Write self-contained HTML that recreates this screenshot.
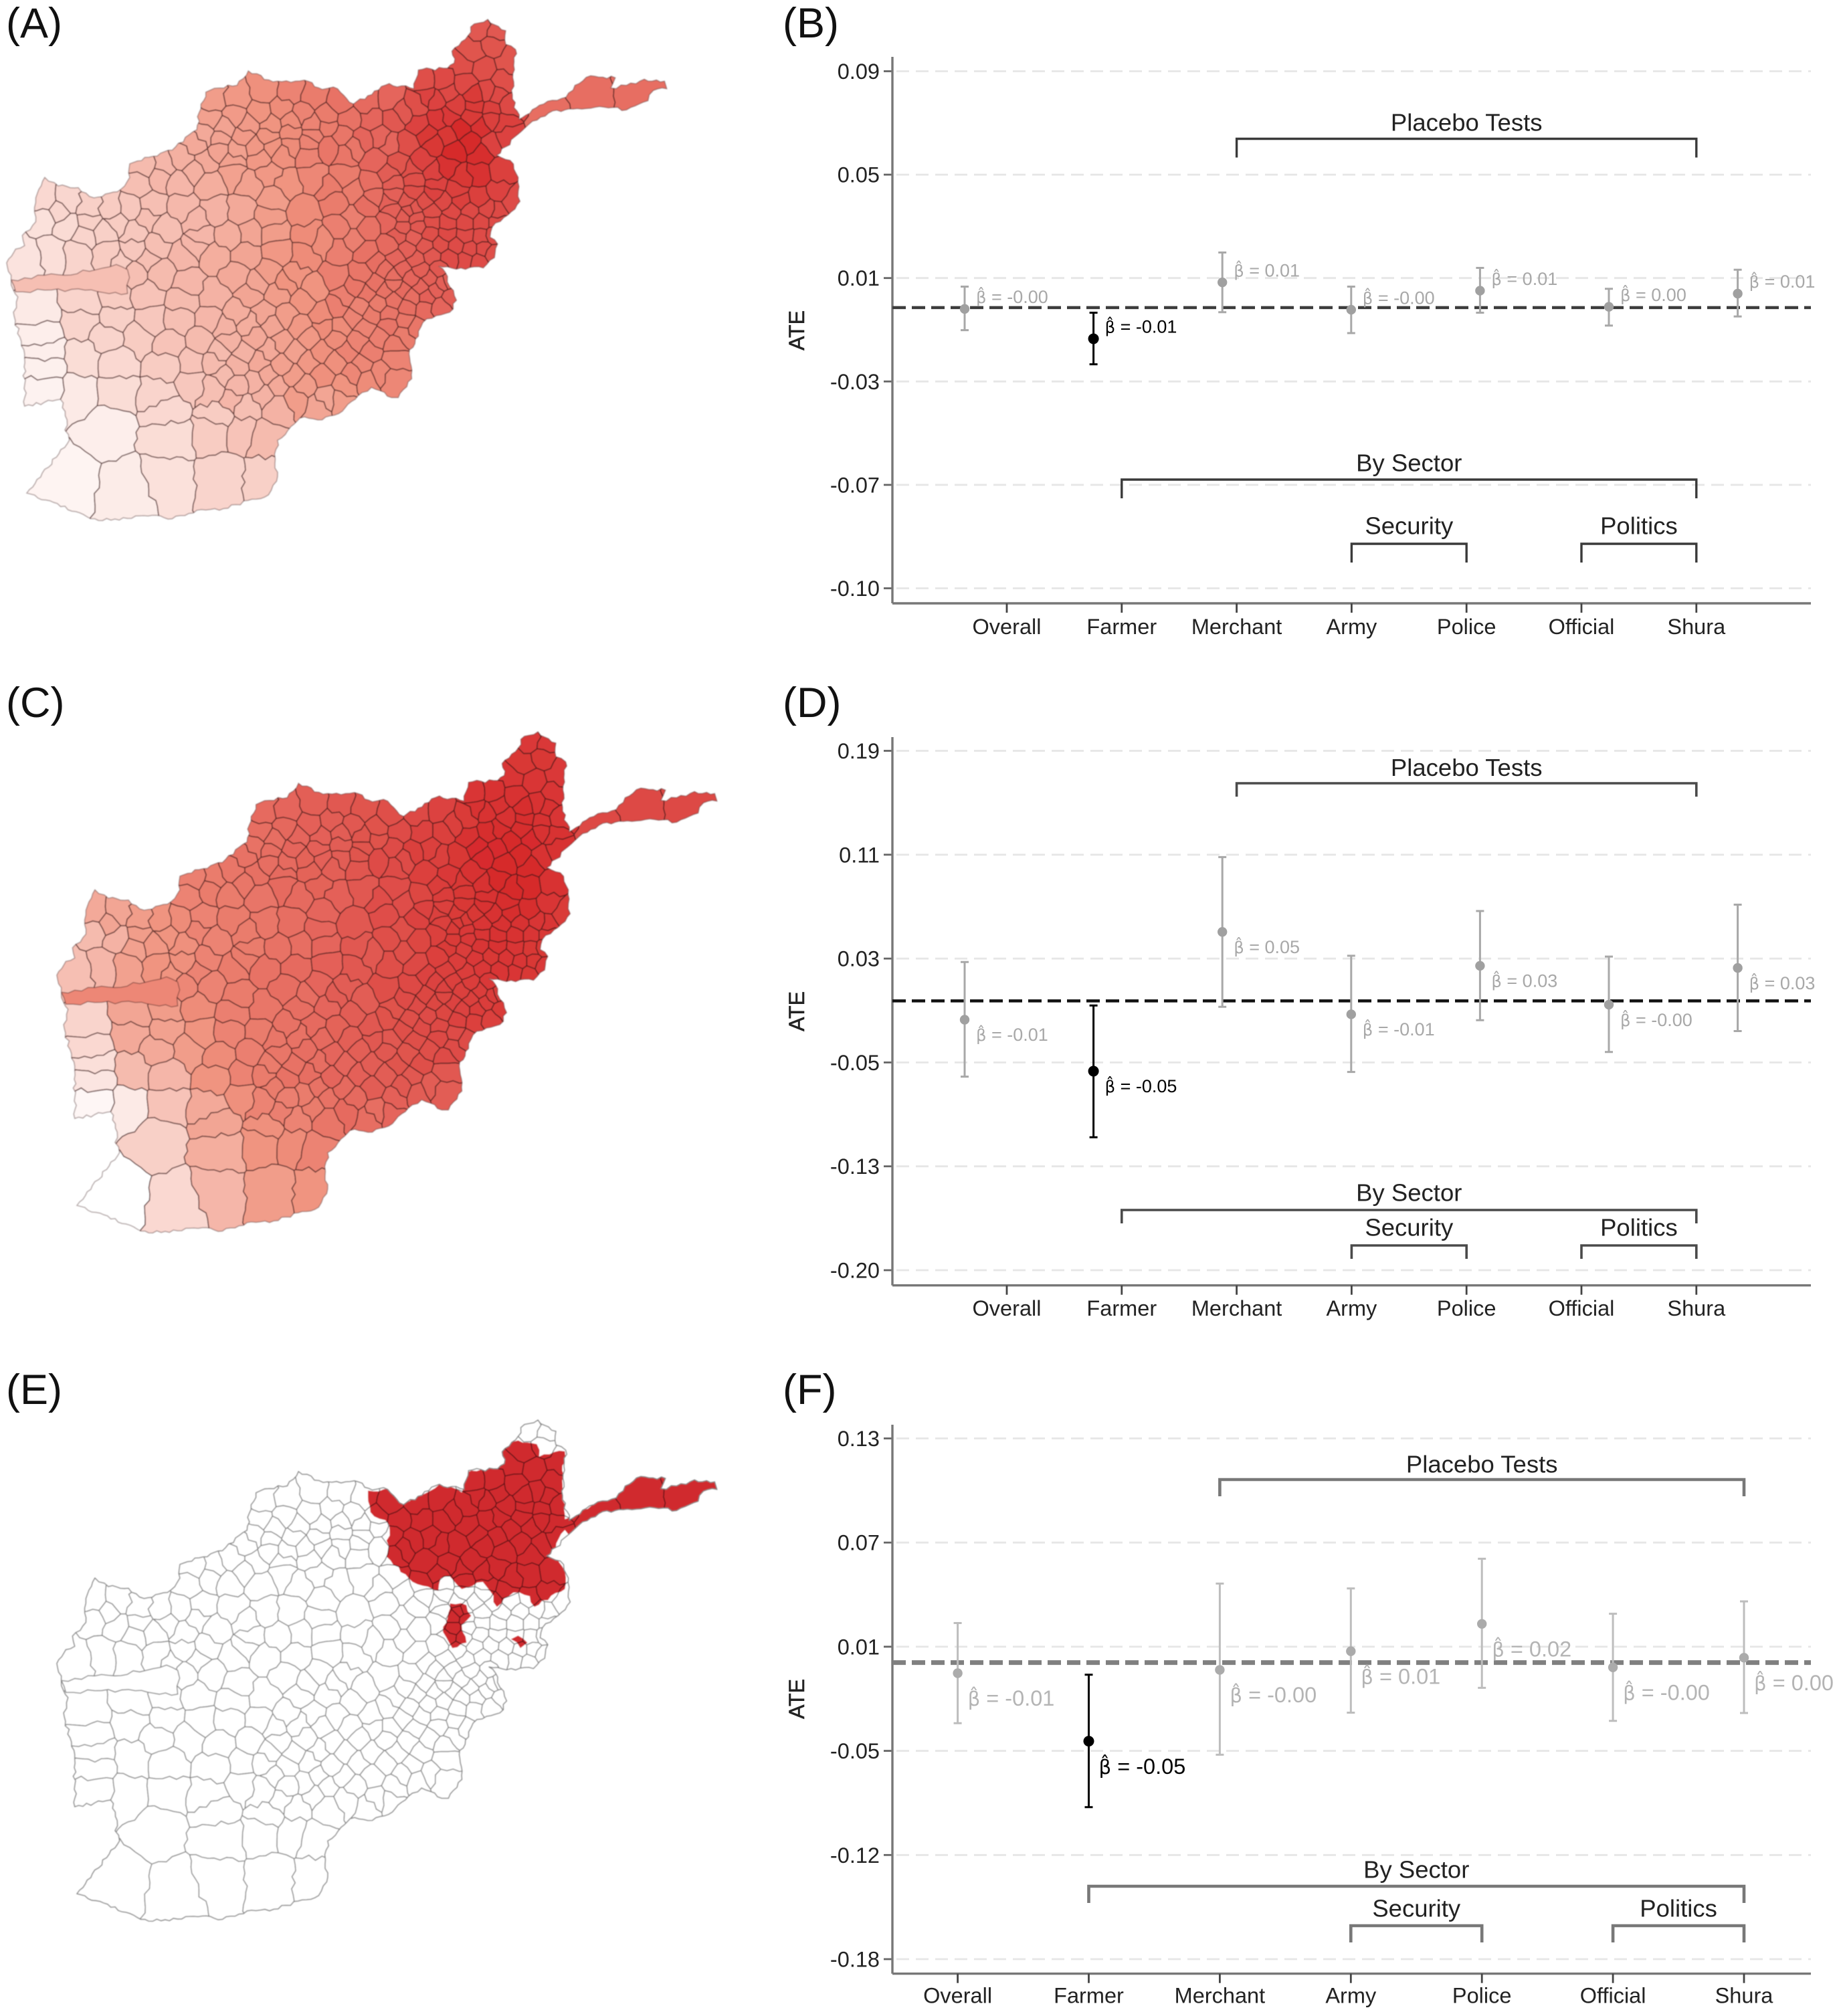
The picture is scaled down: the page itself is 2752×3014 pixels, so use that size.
<!DOCTYPE html>
<html lang="en">
<head>
<meta charset="utf-8">
<title>Afghanistan maps and treatment effects</title>
<style>
html,body{margin:0;padding:0;background:#fff;}
svg{display:block;font-family:"Liberation Sans",Arial,sans-serif;}
</style>
</head>
<body>
<svg id="figure" xmlns="http://www.w3.org/2000/svg" width="2752" height="3014" viewBox="0 0 2752 3014">
  <defs id="defs"><filter id="soft" x="-2%" y="-2%" width="104%" height="104%"><feGaussianBlur stdDeviation="0.7"/></filter></defs>
  <rect width="2752" height="3014" fill="#fff"/>
  <g font-size="63" fill="#111">
    <text x="9" y="56">(A)</text>
    <text x="1170" y="56">(B)</text>
    <text x="9" y="1072">(C)</text>
    <text x="1170" y="1072">(D)</text>
    <text x="9" y="2099">(E)</text>
    <text x="1170" y="2099">(F)</text>
  </g>
</svg>
<script>
/* ---------- chart data ---------- */
const categories = ['Overall','Farmer','Merchant','Army','Police','Official','Shura'];

const tickValuesB = [0.088,0.0495,0.011,-0.0275,-0.066,-0.1045];
const tickLabelsB = ['0.09','0.05','0.01','-0.03','-0.07','-0.10'];
const estimatesB = [-0.0005,-0.0116,0.0094,-0.0008,0.0063,0.0003,0.0052];
const upperB = [0.0078,-0.0019,0.0205,0.0078,0.0148,0.007,0.0141];
const lowerB = [-0.0084,-0.0211,-0.0017,-0.0095,-0.0019,-0.0067,-0.0033];
const printedB = ['-0.00','-0.01','0.01','-0.00','0.01','0.00','0.01'];

const tickValuesD = [0.1866,0.1091,0.0316,-0.0459,-0.1234,-0.2009];
const tickLabelsD = ['0.19','0.11','0.03','-0.05','-0.13','-0.20'];
const estimatesD = [-0.014,-0.0524,0.0515,-0.01,0.0262,-0.0028,0.0246];
const upperD = [0.029,-0.0034,0.1073,0.0337,0.0671,0.0331,0.0718];
const lowerD = [-0.0565,-0.1017,-0.0044,-0.053,-0.0144,-0.0381,-0.0225];
const printedD = ['-0.01','-0.05','0.05','-0.01','0.03','-0.00','0.03'];

const tickValuesF = [0.1345,0.072,0.0095,-0.053,-0.1155,-0.178];
const tickLabelsF = ['0.13','0.07','0.01','-0.05','-0.12','-0.18'];
const estimatesF = [-0.0064,-0.0472,-0.0044,0.0068,0.0232,-0.0029,0.0029];
const upperF = [0.0237,-0.0073,0.0474,0.0445,0.0623,0.0293,0.0367];
const lowerF = [-0.0364,-0.0868,-0.0553,-0.0301,-0.0152,-0.035,-0.0303];
const printedF = ['-0.01','-0.05','-0.00','0.01','0.02','-0.00','0.00'];

const bracketLabels = ['Placebo Tests','By Sector','Security','Politics'];
const bracketFrom = [2,1,3,5];
const bracketTo = [6,6,4,6];
const significantCategory = 1;

/* ---------- map data: district seeds in tracing coordinates, with shading per row ---------- */
const districtSites = [
 [1075,85],[1105,90],[1060,150],[1100,130],[1135,180],[1035,190],[1080,200],[1125,240],
 [950,240],[990,240],[1040,245],[1090,270],
 [480,290],[530,290],[590,265],[650,270],[700,285],[760,300],[820,300],[870,290],[930,310],[975,290],[1020,310],[1060,310],[1100,320],[1135,310],
 [470,350],[525,340],[580,330],[630,320],[675,335],[730,340],[780,350],[830,350],[880,350],[935,365],[980,350],[1030,380],[1075,370],[1120,360],
 [440,420],[490,410],[545,400],[600,400],[650,390],[700,395],[765,400],[850,400],[910,420],[970,420],[1015,440],[1075,450],[1130,400],
 [1320,280],[1420,270],[1220,340],
 [320,490],[370,490],[410,470],[460,470],[520,470],[580,460],[630,450],[690,450],[770,450],[840,470],[890,480],[945,470],[1000,490],[1120,500],
 [310,540],[400,530],[470,540],[560,540],[640,540],[700,520],[770,520],[830,540],[880,540],[925,530],[975,540],[1030,520],[1070,510],[1115,560],
 [100,590],[150,590],[200,610],[250,610],[290,610],[340,600],[410,610],[480,620],[540,620],[610,580],[680,620],[750,590],[820,600],[870,590],[910,590],[950,590],[990,590],[1030,590],[1070,580],[1110,620],[1145,590],
 [100,640],[150,660],[190,690],[230,680],[300,680],[370,670],[450,690],[510,690],[560,680],[610,680],[690,690],[760,670],[820,670],[870,650],[900,665],[930,640],[965,650],[1000,650],[1040,650],[1075,650],[1110,650],
 [60,760],[120,740],[170,745],[240,745],[300,730],[350,720],[410,750],[480,750],[550,750],[620,740],[680,750],[760,730],[820,740],[870,720],[910,730],[950,720],[985,715],[1020,720],[1050,730],[1080,730],[1100,745],
 [300,800],[360,800],[420,830],[530,810],[600,800],[660,810],[750,810],[810,800],[860,790],[900,790],[940,790],[980,790],
 [85,920],[190,890],[260,870],[330,860],[410,880],[480,870],[560,860],[620,860],[680,880],[770,870],[820,860],[860,850],[900,850],[940,840],[975,850],[1005,870],
 [185,940],[260,930],[340,940],[400,940],[470,940],[530,920],[590,920],[640,930],[720,920],[790,930],[830,920],[870,920],[910,900],[950,905],[985,895],
 [90,980],[240,990],[310,990],[380,1010],[450,1000],[510,1000],[570,990],[630,1000],[690,990],[750,990],[800,1000],[850,990],[900,980],[930,960],
 [100,1030],[100,1075],[190,1050],[260,1060],[370,1070],[430,1060],[480,1060],[530,1070],[580,1060],[630,1070],[690,1060],[750,1060],[810,1070],[880,1050],
 [100,1140],[175,1150],[260,1150],[360,1160],[430,1120],[475,1140],[530,1130],[570,1120],[620,1130],[680,1130],[770,1130],[820,1110],[880,1110],
 [240,1250],[370,1195],[490,1220],[550,1190],[620,1190],[710,1190],[760,1170],
 [380,1280],[480,1260],[540,1260],[590,1280],
 [150,1400],[290,1430],[370,1400],[500,1400],[590,1400]
];
const shadeA = [
 78,78,80,80,80,82,82,82,
 82,85,85,85,
 46,48,52,58,62,66,70,72,82,88,90,92,90,86,
 44,47,50,54,58,62,66,72,78,88,93,100,96,90,
 40,43,47,50,54,58,64,72,82,94,100,98,88,
 68,68,68,
 32,34,37,40,44,48,52,58,64,72,80,88,96,90,
 30,34,38,44,50,56,62,68,76,82,88,94,96,88,
 18,19,22,24,26,30,33,36,40,46,54,62,68,74,78,82,86,90,90,86,84,
 14,17,20,22,26,30,34,38,42,46,54,60,66,72,76,78,82,85,86,86,84,
 13,15,20,24,26,30,34,38,42,48,54,60,66,70,74,78,82,84,84,84,82,
 30,32,34,40,46,50,60,64,68,72,75,78,
 10,20,24,28,32,36,42,46,50,60,64,66,70,72,74,76,
 20,22,26,30,34,38,42,46,54,58,62,65,68,70,72,
 8,20,24,28,32,36,40,44,48,54,58,60,62,64,
 8,7,16,18,24,28,32,36,40,44,48,52,56,58,
 6,10,16,20,26,30,34,36,40,46,50,54,56,
 8,18,24,30,36,42,46,
 16,24,28,32,
 5,9,14,20,22
];
const shadeC = [
 93,93,94,94,93,95,95,95,
 95,96,96,97,
 70,72,75,78,80,82,86,88,92,96,97,98,97,95,
 68,71,74,76,78,81,84,88,90,96,98,100,99,96,
 66,68,72,74,76,80,84,90,94,99,100,100,96,
 86,86,86,
 60,62,64,67,70,73,75,79,84,89,93,96,100,96,
 58,62,65,70,74,78,83,87,91,94,97,100,100,95,
 40,42,46,50,54,58,62,64,68,72,78,83,88,90,92,94,96,98,98,95,92,
 32,36,44,48,52,58,62,66,68,72,78,82,87,90,92,93,95,96,96,95,94,
 30,34,44,50,52,58,62,66,70,74,78,82,86,89,91,93,94,95,95,94,93,
 56,58,62,68,72,76,82,85,88,90,91,93,
 20,42,46,54,60,64,68,72,76,81,84,87,88,90,91,92,
 40,44,50,58,62,66,70,73,78,82,84,86,88,89,90,
 18,40,46,54,60,64,68,72,75,78,80,82,84,84,
 15,12,32,34,50,58,62,66,68,72,74,76,78,78,
 4,10,28,40,52,58,60,62,66,70,74,76,76,
 22,42,52,58,64,68,72,
 38,50,54,58,
 0,18,34,46,50
];
/* smaller districts that take the shade of the nearest seed above */
const smallerDistricts = [
 [880,620],[925,610],[965,620],[1010,620],[1050,620],[1090,615],[915,615],[900,635],
 [935,665],[890,690],[925,695],[960,685],[1000,685],[1040,690],[1075,695],[1105,690],
 [885,755],[930,760],[965,750],[1005,755],[1040,760],[1070,765],
 [840,770],[880,810],[920,815],[960,815],[1000,825],
 [795,840],[840,830],[880,830],[920,870],[955,870],[990,830],
 [880,880],[845,890],[805,900],[755,900],[700,850],[640,830],[575,830],
 [760,960],[815,960],[870,955],[905,940],[725,960],[670,960],[610,955],[555,950],[500,960],
 [660,1030],[720,1030],[775,1030],[830,1030],[880,1010],[600,1025],[545,1035],[490,1030],
 [655,1100],[720,1100],[790,1095],[850,1090],[600,1100],[500,1100],
 [660,1165],[590,1155],[730,1165],[520,1170],
 [1000,270],[1060,280],[1110,280],[955,280],[1005,340],[1055,340],[1100,350],[900,330],
 [955,395],[1000,400],[1050,415],[1100,420],[870,420],[810,410],[730,370],[650,355],[700,365],[605,365],[555,365],[500,375],[460,400],
 [690,420],[650,425],[610,430],[570,430],[530,440],[490,440],[735,430],[790,430],
 [870,510],[920,500],[970,505],[1020,555],[970,565],[925,560],[880,570],[835,575],[790,560],[740,555],[600,510],[520,510],[430,500],[360,520],
 [440,650],[330,640],[260,650],[200,650],[130,620],[600,640],[790,640],[720,710],[790,700],[440,720],[330,760],[270,770]
];
const stripOutline = [[25,820],[130,805],[200,795],[260,775],[285,790],[285,860],[190,850],[100,850],[35,855]];
const stripShadeA = 30;
const stripShadeC = 56;
const countryOutline = [
 [1090,57],[1130,90],[1130,130],[1152,145],[1148,240],[1145,290],[1160,350],[1215,305],[1265,285],[1285,250],[1320,222],[1375,228],[1365,258],[1400,250],[1440,232],[1485,238],[1490,260],[1460,265],[1448,295],[1400,322],[1340,312],[1290,318],[1235,325],[1190,355],[1165,385],
 [1130,430],[1110,455],[1140,470],[1158,520],[1158,560],[1162,590],[1135,630],[1100,665],[1095,695],[1112,715],[1105,755],[1080,785],[1030,785],[980,780],[1000,810],[1005,840],[1020,880],[1005,915],[975,925],[945,945],[935,985],[915,1025],[920,1110],[890,1165],[875,1165],[850,1145],[830,1135],[800,1160],[765,1205],[720,1230],[670,1225],[650,1250],[620,1290],[615,1345],[618,1410],[600,1450],[500,1490],[440,1495],[385,1520],[340,1510],[220,1525],[60,1445],
 [155,1290],[145,1260],[150,1230],[135,1170],[55,1190],[55,1050],[30,915],[40,870],[30,850],[25,820],[15,770],[35,730],[55,720],[50,690],[80,650],[80,580],[100,520],[130,545],[175,550],[210,580],[270,555],[290,520],[290,480],[385,440],[440,380],[445,330],[460,270],[490,258],[530,250],[555,208],[610,240],[680,235],[720,262],[745,255],[790,305],[870,245],[925,260],[935,205],[1000,200],[1015,185],[1010,150],[1040,115],[1060,70]
];
/* red region of panel E, traced in that panel's own coordinates */
const focusRegions = [
 [[785,315],[830,310],[865,350],[945,295],[985,320],[995,265],[1060,250],[1075,235],[1070,200],[1095,178],[1145,185],[1150,220],[1205,205],[1200,300],[1205,395],[1300,330],[1340,270],[1400,250],[1540,270],[1540,330],[1440,385],[1330,370],[1240,420],[1225,445],[1205,425],[1180,490],[1205,540],[1205,590],[1140,640],[1130,610],[1095,600],[1060,640],[1045,595],[1030,570],[985,590],[960,555],[940,560],[935,595],[880,570],[825,500],[830,410],[790,375]],
 [[960,630],[995,635],[1005,665],[985,690],[995,740],[965,755],[945,710],[955,670]],
 [[1090,730],[1105,720],[1125,740],[1110,755]]
];

/* ---------- layout ---------- */
const panelB = {key:'b',first:106.5,last:879.5,axisY:902,axisTop:85,ateY:494,labelY:936.5,tickStart:1505,tickStep:171.8,ptStart:1442,ptStep:192.6,
  bracketY:[207.5,717,813,813],bracketDrop:28,bracketTextY:[183,692,786,786],labelDy:-18.5,labelDx:17,betaSize:27,
  bar:'#a8a8a8',dot:'#a0a0a0',betaColor:'#a8a8a8',zero:'#3c3c3c',zeroW:4.5,bracket:'#3a3a3a',bracketW:3.4};
const panelD = {key:'d',first:1122.5,last:1899,axisY:1921.7,axisTop:1102,ateY:1512,labelY:1955.5,tickStart:1505,tickStep:171.8,ptStart:1442,ptStep:192.6,
  bracketY:[1171,1809,1862,1862],bracketDrop:20,bracketTextY:[1147.5,1783,1835,1835],labelDy:22,labelDx:17,betaSize:27,
  bar:'#a8a8a8',dot:'#a0a0a0',betaColor:'#a8a8a8',zero:'#111',zeroW:4.5,bracket:'#4a4a4a',bracketW:3.6};
const panelF = {key:'f',first:2150.5,last:2929,axisY:2950.7,axisTop:2130,ateY:2540,labelY:2983,tickStart:1431.6,tickStep:195.9,ptStart:1431.6,ptStep:195.9,
  bracketY:[2212,2820,2879,2879],bracketDrop:25,bracketTextY:[2189,2795,2853,2853],labelDy:37,labelDx:15,betaSize:32.5,
  bar:'#bdbdbd',dot:'#ababab',betaColor:'#b4b4b4',zero:'#808080',zeroW:7,bracket:'#787878',bracketW:4.6};
const AXIS_LEFT = 1334, AXIS_RIGHT = 2707;

const NS = 'http://www.w3.org/2000/svg';
const figure = document.getElementById('figure');
const defs = document.getElementById('defs');

function make(tag, attrs, parent, text){
  const n = document.createElementNS(NS, tag);
  for(const k in attrs){ n.setAttribute(k, attrs[k]); }
  if(text !== undefined){ n.textContent = text; }
  parent.appendChild(n);
  return n;
}

/* ---------- charts ---------- */
function drawPanel(cfg, tickValues, tickLabels, estimates, upper, lower, printed){
  const top = tickValues[0], bottom = tickValues[tickValues.length-1];
  const yScale = v => cfg.first + (top - v) / (top - bottom) * (cfg.last - cfg.first);
  const tickX = i => cfg.tickStart + cfg.tickStep * i;
  const pointX = i => cfg.ptStart + cfg.ptStep * i;

  const g = make('g', {}, figure);
  
  

  tickValues.forEach((v, i) => {
    const y = yScale(v);
    const grid = make('line', {x1:AXIS_LEFT,x2:AXIS_RIGHT,y1:y,y2:y,stroke:'#e6e6e6','stroke-width':2.8,'stroke-dasharray':'19 10','stroke-dashoffset':-6}, g);
    
    
    const mark = make('line', {x1:AXIS_LEFT-13,x2:AXIS_LEFT,y1:y,y2:y,stroke:'#666','stroke-width':2.8}, g);
    
    
    const label = make('text', {x:1315,y:y+11.5,'text-anchor':'end','font-size':32.5,fill:'#222'}, g, tickLabels[i]);
    
    
  });

  const yAxis = make('line', {x1:AXIS_LEFT,x2:AXIS_LEFT,y1:cfg.axisTop,y2:cfg.axisY,stroke:'#777','stroke-width':3.4}, g);
  
  
  const xAxis = make('line', {x1:AXIS_LEFT,x2:AXIS_RIGHT,y1:cfg.axisY,y2:cfg.axisY,stroke:'#777','stroke-width':3.4}, g);
  
  

  const title = make('text', {transform:'translate(1202,'+cfg.ateY+') rotate(-90)','text-anchor':'middle','font-size':32,fill:'#222',stroke:'#222','stroke-width':0.6}, g, 'ATE');
  
  

  categories.forEach((c, i) => {
    const x = tickX(i);
    const mark = make('line', {x1:x,x2:x,y1:cfg.axisY,y2:cfg.axisY+14,stroke:'#444','stroke-width':2.8}, g);
    
    
    const label = make('text', {x:x,y:cfg.labelY+11.5,'text-anchor':'middle','font-size':32.5,fill:'#222'}, g, c);
    
    
  });

  const zero = make('line', {x1:AXIS_LEFT,x2:AXIS_RIGHT,y1:yScale(0),y2:yScale(0),stroke:cfg.zero,'stroke-width':cfg.zeroW,'stroke-dasharray':'20 9'}, g);
  
  

  estimates.forEach((v, i) => {
    const x = pointX(i);
    const on = i === significantCategory;
    const barColor = on ? '#000' : cfg.bar;
    const bar = make('path', {d:'M'+(x-6)+' '+yScale(upper[i])+'H'+(x+6)+'M'+x+' '+yScale(upper[i])+'V'+yScale(lower[i])+'M'+(x-6)+' '+yScale(lower[i])+'H'+(x+6),fill:'none',stroke:barColor,'stroke-width':3}, g);
    
    
    const dot = make('circle', {cx:x,cy:yScale(v),r:on ? 8 : 7.2,fill:on ? '#000' : cfg.dot}, g);
    
    
    const beta = make('text', {x:x+cfg.labelDx,y:yScale(v)+cfg.labelDy+cfg.betaSize*0.36,'font-size':cfg.betaSize,fill:on ? '#000' : cfg.betaColor}, g);
    
    
    make('tspan', {'font-family':'"DejaVu Sans",sans-serif','font-size':cfg.betaSize*0.9}, beta, '\u03B2\u0302');
    make('tspan', {}, beta, ' = ' + printed[i]);
  });

  bracketLabels.forEach((t, i) => {
    const x1 = tickX(bracketFrom[i]), x2 = tickX(bracketTo[i]), y = cfg.bracketY[i], d = cfg.bracketDrop;
    const br = make('path', {d:'M'+x1+' '+(y+d)+'V'+y+'H'+x2+'V'+(y+d),fill:'none',stroke:cfg.bracket,'stroke-width':cfg.bracketW}, g);
    
    
    const label = make('text', {x:(x1+x2)/2,y:cfg.bracketTextY[i]+12.5,'text-anchor':'middle','font-size':36.5,fill:'#222'}, g, t);
    
    
  });
}

drawPanel(panelB, tickValuesB, tickLabelsB, estimatesB, upperB, lowerB, printedB);
drawPanel(panelD, tickValuesD, tickLabelsD, estimatesD, upperD, lowerD, printedD);
drawPanel(panelF, tickValuesF, tickLabelsF, estimatesF, upperF, lowerF, printedF);

/* ---------- maps ---------- */
const toMap = p => [p[0] / 1.495, p[1] / 1.96];
const focusToMap = p => [p[0] / 1.427 - 75, p[1] / 1.869 - 34];

function roughness(x, y){
  const s = Math.sin(x * 12.9898 + y * 78.233) * 43758.5453;
  return s - Math.floor(s) - 0.5;
}
/* wavy boundary: both neighbours of an edge get the same wiggle because the edge is walked in a canonical order */
function wavyPath(poly, step, maxAmp){
  const pts = [];
  for(let i = 0; i < poly.length; i++){
    const raw1 = poly[i], raw2 = poly[(i+1) % poly.length];
    const p = [Math.round(raw1[0]*10)/10, Math.round(raw1[1]*10)/10];
    const q = [Math.round(raw2[0]*10)/10, Math.round(raw2[1]*10)/10];
    pts.push(p);
    const swap = p[0] > q[0] || (p[0] === q[0] && p[1] > q[1]);
    const a = swap ? q : p, b = swap ? p : q;
    const dx = b[0]-a[0], dy = b[1]-a[1], len = Math.hypot(dx, dy);
    const n = Math.floor(len / step);
    if(n < 2){ continue; }
    const amp = Math.min(maxAmp, len * 0.14);
    const inner = [];
    for(let j = 1; j < n; j++){
      const t = j / n;
      const px = a[0] + dx*t, py = a[1] + dy*t;
      const off = amp * 2 * roughness(px, py) * Math.min(1, 8*t*(1-t));
      inner.push([px - dy/len*off, py + dx/len*off]);
    }
    if(swap){ inner.reverse(); }
    inner.forEach(k => pts.push(k));
  }
  return 'M' + pts.map(p => p[0].toFixed(1) + ' ' + p[1].toFixed(1)).join('L') + 'Z';
}

function clipHalf(poly, a, b){
  const mx = (a[0]+b[0])/2, my = (a[1]+b[1])/2, nx = b[0]-a[0], ny = b[1]-a[1];
  const side = p => (p[0]-mx)*nx + (p[1]-my)*ny;
  const out = [];
  for(let i = 0; i < poly.length; i++){
    const p = poly[i], q = poly[(i+1) % poly.length], sp = side(p), sq = side(q);
    if(sp <= 0){ out.push(p); }
    if((sp < 0 && sq > 0) || (sp > 0 && sq < 0)){
      const t = sp / (sp - sq);
      out.push([p[0] + (q[0]-p[0])*t, p[1] + (q[1]-p[1])*t]);
    }
  }
  return out;
}

const seedCount = districtSites.length;
const mapSites = districtSites.concat(smallerDistricts).map(toMap);
const shadeSource = mapSites.map((s, i) => {
  if(i < seedCount){ return i; }
  let best = 0, bestD = Infinity;
  for(let j = 0; j < seedCount; j++){
    const d = Math.hypot(s[0]-mapSites[j][0], s[1]-mapSites[j][1]);
    if(d < bestD){ bestD = d; best = j; }
  }
  return best;
});
const cellPaths = mapSites.map((s, i) => {
  let poly = [[-20,-20],[1100,-20],[1100,820],[-20,820]];
  mapSites.forEach((o, j) => {
    if(j !== i && poly.length){ poly = clipHalf(poly, s, o); }
  });
  return wavyPath(poly, 9, 4.5);
});
const outlinePath = wavyPath(countryOutline.map(toMap), 6, 2.5);
const stripPath = wavyPath(stripOutline.map(toMap), 9, 3);

const clipCountry = make('clipPath', {id:'clip-country'}, defs);
make('path', {d:outlinePath}, clipCountry);
const clipFocus = make('clipPath', {id:'clip-focus'}, defs);
focusRegions.forEach(r => make('path', {d:wavyPath(r.map(focusToMap), 7, 2.5)}, clipFocus));

function shade(t){
  const stops = [[255,255,255],[240,148,128],[214,42,44]];
  const u = Math.max(0, Math.min(1, t / 100)) * 2;
  const k = Math.min(1, Math.floor(u)), f = u - k;
  return 'rgb(' + stops[k].map((c, i) => Math.round(c + (stops[k+1][i] - c) * f)).join(',') + ')';
}

function drawChoropleth(key, tx, ty, values, stripValue){
  const g = make('g', {transform:'translate('+tx+','+ty+')',filter:'url(#soft)'}, figure);
  
  
  const inner = make('g', {'clip-path':'url(#clip-country)'}, g);
  
  
  cellPaths.forEach((d, i) => {
    const cell = make('path', {d:d,fill:shade(values[shadeSource[i]]),stroke:'rgba(60,22,22,0.68)','stroke-width':1.6}, inner);
    
    
  });
  const strip = make('path', {d:stripPath,fill:shade(stripValue),stroke:'rgba(60,25,25,0.45)','stroke-width':1.5}, inner);
  
  
  const edge = make('path', {d:outlinePath,fill:'none',stroke:'rgba(90,60,60,0.5)','stroke-width':1.5}, g);
  
  
}

drawChoropleth('a', 0, 0, shadeA, stripShadeA);
drawChoropleth('c', 75, 1065, shadeC, stripShadeC);

(function drawFocusMap(){
  const g = make('g', {transform:'translate(75,2094)',filter:'url(#soft)'}, figure);
  
  
  const inner = make('g', {'clip-path':'url(#clip-country)'}, g);
  
  
  cellPaths.forEach(d => {
    const cell = make('path', {d:d,fill:'#fff',stroke:'#808080','stroke-width':1.4}, inner);
    
    
  });
  const stripE = make('path', {d:stripPath,fill:'#fff',stroke:'#808080','stroke-width':1.4}, inner);
  
  
  const red = make('g', {'clip-path':'url(#clip-focus)'}, inner);
  
  
  cellPaths.forEach(d => {
    const cell = make('path', {d:d,fill:'#d02a2f',stroke:'rgba(70,10,15,0.7)','stroke-width':1.5}, red);
    
    
  });
  const edge = make('path', {d:outlinePath,fill:'none',stroke:'#808080','stroke-width':1.4}, g);
  
  
})();
</script>
</body>
</html>
